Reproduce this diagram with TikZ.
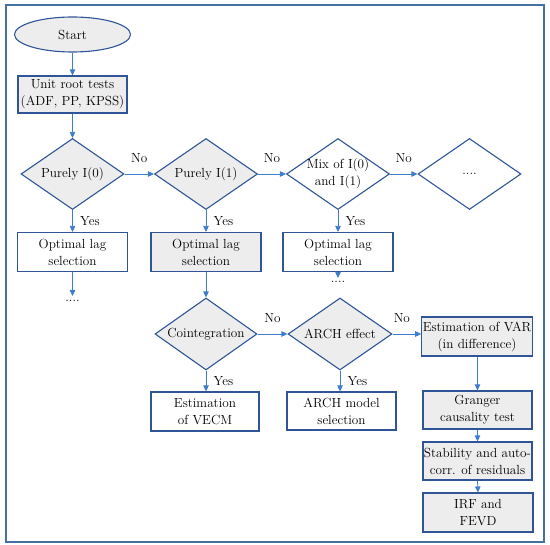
\documentclass[tikz,border=0pt]{standalone}
\usetikzlibrary{shapes.geometric,arrows.meta}
\definecolor{boxblue}{RGB}{47,85,151}
\definecolor{arrblue}{RGB}{60,125,205}
\definecolor{framec}{RGB}{68,114,160}
\definecolor{boxgray}{RGB}{237,237,237}
\tikzset{
  x=1pt,y=1pt,
  every node/.style={font=\fontsize{13.2}{17}\selectfont},
  rbox/.style={draw=boxblue,line width=1.1pt,rectangle,minimum width=110pt,minimum height=39pt,inner sep=1pt,align=center},
  gbox/.style={rbox,fill=boxgray},
  dia/.style={draw=boxblue,line width=1.1pt,diamond,minimum width=103pt,minimum height=71pt,inner sep=0pt},
  gdia/.style={dia,fill=boxgray},
  arr/.style={draw=arrblue,line width=0.8pt,-{Triangle[length=6pt,width=5.5pt]}},
  yes/.style={right,xshift=4pt},
  nolab/.style={above,yshift=8pt}
}
\begin{document}
\begin{tikzpicture}
\useasboundingbox (0,0) rectangle (550,-545);
\draw[framec,line width=1.4pt] (6,-5) rectangle (544,-542);
% nodes
\node[draw=boxblue,line width=1.1pt,ellipse,fill=boxgray,minimum width=116pt,minimum height=35pt,inner sep=0pt] (start) at (72.5,-34.5) {Start};
\node[gbox,minimum width=109pt,minimum height=37pt] (unit) at (72.5,-94.5) {Unit root tests\\(ADF, PP, KPSS)};
\node[gdia,fill=boxgray,label={center:Purely I(0)}] (d0) at (72.5,-174) {};
\node[gdia,label={center:Purely I(1)}] (d1) at (206,-174) {};
\node[dia,label={[align=center]center:Mix of I(0)\\and I(1)}] (d2) at (338,-174) {};
\node[dia,label={center:....}] (d3) at (469.5,-174) {};
\node[rbox] (ol0) at (72.5,-252) {Optimal lag\\selection};
\node[gbox] (ol1) at (206,-252) {Optimal lag\\selection};
\node[rbox] (ol2) at (338,-252) {Optimal lag\\selection};
\node (dots0) at (72.5,-301) {....};
\coordinate (dots0top) at (72.5,-296);
\node (dots2) at (338,-282) {....};
\coordinate (dots2top) at (338,-278);
\node[gdia,minimum width=102pt,minimum height=72pt,label={center:Cointegration}] (coint) at (206,-334) {};
\node[gdia,minimum width=104pt,minimum height=72pt,label={center:ARCH effect}] (arch) at (340,-334) {};
\node[gbox] (var) at (477,-336.5) {Estimation of VAR\\(in difference)};
\node[rbox,minimum width=108pt] (vecm) at (205,-411.5) {Estimation\\of VECM};
\node[rbox,minimum width=109pt,minimum height=38pt] (archsel) at (341.5,-411) {ARCH model\\selection};
\node[gbox,minimum width=109pt,minimum height=38pt] (granger) at (477.5,-410) {Granger\\causality test};
\node[gbox,minimum width=109pt,minimum height=38pt] (stab) at (477.5,-461) {Stability and auto-\\corr. of residuals};
\node[gbox] (irf) at (478,-512.5) {IRF and\\FEVD};
% connectors
\draw[arr] (start) -- (unit);
\draw[arr] (unit) -- (d0.north);
\draw[arr] (d0.east) -- node[nolab]{No} (d1.west);
\draw[arr] (d1.east) -- node[nolab]{No} (d2.west);
\draw[arr] (d2.east) -- node[nolab]{No} (d3.west);
\draw[arr] (d0.south) -- node[yes]{Yes} (ol0.north -| d0.south);
\draw[arr] (d1.south) -- node[yes]{Yes} (ol1.north -| d1.south);
\draw[arr] (d2.south) -- node[yes]{Yes} (ol2.north -| d2.south);
\draw[arr] (ol0.south -| dots0top) -- (dots0top);
\draw[arr] (ol2.south -| dots2top) -- (dots2top);
\draw[arr] (ol1.south -| coint.north) -- (coint.north);
\draw[arr] (coint.east) -- node[nolab]{No} (arch.west);
\draw[arr] (arch.east) -- node[nolab,xshift=-5pt]{No} (arch.east -| var.west);
\draw[arr] (coint.south) -- node[yes]{Yes} (vecm.north -| coint.south);
\draw[arr] (arch.south) -- node[yes]{Yes} (archsel.north -| arch.south);
\draw[arr] (var.south -| granger.north) -- (granger.north);
\draw[arr] (granger.south) -- (stab.north);
\draw[arr] (stab.south) -- (irf.north);
\end{tikzpicture}
\end{document}
